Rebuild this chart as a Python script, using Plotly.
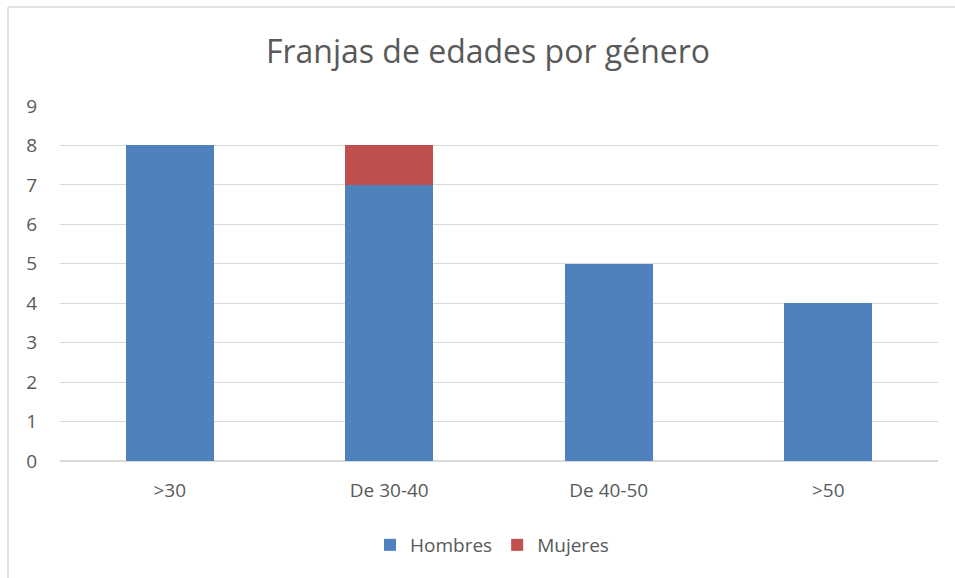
import plotly.graph_objects as go

categories = [">30", "De 30-40", "De 40-50", ">50"]
hombres = [8, 7, 5, 4]
mujeres = [0, 1, 0, 0]
y_ticks = list(range(0, 10))

W, H = 955, 578
L, R, T, B = 60, 17, 106, 117
pw, ph = W - L - R, H - T - B

fig = go.Figure()
fig.add_bar(x=categories, y=hombres, name="Hombres", marker=dict(color="#4F81BD", line=dict(width=0)))
fig.add_bar(x=categories, y=mujeres, name="Mujeres", marker=dict(color="#C0504D", line=dict(width=0)))

def px_x(p):
    return (p - L) / pw

def px_y(p):
    return (H - B - p) / ph

fig.update_layout(
    width=W, height=H,
    barmode="stack", bargap=0.6,
    margin=dict(l=L, r=R, t=T, b=B),
    plot_bgcolor="white", paper_bgcolor="white",
    font=dict(family="Open Sans, Liberation Sans, sans-serif", color="#595959", size=19),
    title=dict(text="Franjas de edades por género", xref="container", x=488 / W, xanchor="center",
               y=1 - 52 / H, yanchor="middle", font=dict(size=32, color="#595959")),
    xaxis=dict(showgrid=False, showline=False, ticks="", tickfont=dict(size=19),
               ticklabelstandoff=16),
    yaxis=dict(range=[0, 9], tickvals=y_ticks, showgrid=True, gridcolor="#D9D9D9",
               gridwidth=1, zeroline=True, zerolinecolor="#D9D9D9", ticks="",
               tickfont=dict(size=19), ticklabelstandoff=22),
    legend=dict(orientation="h", x=px_x(492), xanchor="center", y=px_y(545), yanchor="middle",
                font=dict(size=19), itemwidth=30, traceorder="normal"),
    shapes=[
        dict(type="line", xref="paper", yref="paper", x0=px_x(8), x1=px_x(W + 5),
             y0=px_y(7), y1=px_y(7), line=dict(color="#D9D9D9", width=1.5)),
        dict(type="line", xref="paper", yref="paper", x0=px_x(8), x1=px_x(8),
             y0=px_y(7), y1=px_y(H + 5), line=dict(color="#D9D9D9", width=1.5)),
    ],
)

fig.write_html("out.html", config={"displayModeBar": False},
               post_script="document.body.style.margin='0';")
